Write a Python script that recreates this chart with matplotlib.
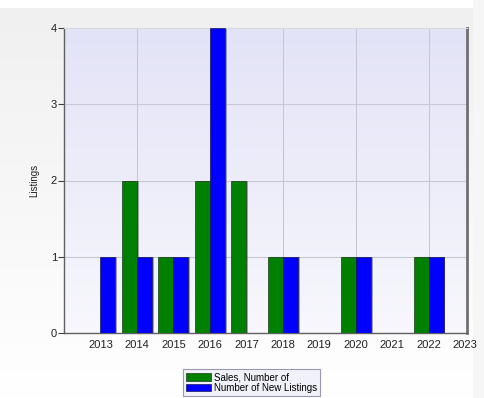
import numpy as np
import matplotlib.pyplot as plt
from matplotlib.patches import Rectangle

years = [2013, 2014, 2015, 2016, 2017, 2018, 2019, 2020, 2021, 2022]
sales = [0, 2, 1, 2, 2, 1, 0, 1, 0, 1]
new_listings = [1, 1, 1, 4, 0, 1, 0, 1, 0, 1]
tick_years = list(range(2013, 2024))

plt.rcParams['font.family'] = ['Liberation Sans', 'DejaVu Sans']

fig = plt.figure(figsize=(4.85, 3.98), dpi=100)

# light grey panel fading to white behind everything
bg = fig.add_axes([0, 0, 1, 1], zorder=-10)
grad = np.linspace(0.94, 1.0, 256).reshape(-1, 1)
bg.imshow(np.dstack([grad, grad, grad]), aspect='auto', extent=[0, 1, 0, 1],
          origin='upper')
bg.add_patch(Rectangle((0, 1 - 8 / 398), 1, 8 / 398, color='white', lw=0))
bg.add_patch(Rectangle((473 / 485, 0), 1, 1, color='#f6f6f6', lw=0))
bg.set_xlim(0, 1)
bg.set_ylim(0, 1)
bg.axis('off')

ax = fig.add_axes([64 / 485, 1 - 333 / 398, 403 / 485, 305 / 398])
ax.set_xlim(2012.0, 2023.05)
ax.set_ylim(0, 4)

# lavender gradient inside the plot area
top = np.array([0.89, 0.89, 0.97])
bottom = np.array([0.97, 0.97, 0.99])
t = np.linspace(0, 1, 256).reshape(-1, 1, 1)
ax.imshow(top * (1 - t) + bottom * t, aspect='auto',
          extent=[2012.0, 2023.05, 0, 4], origin='upper', zorder=0)

for x in [2014, 2016, 2018, 2020, 2022]:
    ax.axvline(x, color='#c8c8d4', lw=0.8, zorder=1)
for y in [1, 2, 3]:
    ax.axhline(y, color='#c8c8d4', lw=0.8, zorder=1)

w = 0.41
xs = np.array(years)
# drop shadows
ax.bar(xs - w / 2 + 0.05, sales, width=w, color='#505050', alpha=0.5,
       zorder=2, linewidth=0)
ax.bar(xs + w / 2 + 0.05, new_listings, width=w, color='#505050', alpha=0.5,
       zorder=2, linewidth=0)
ax.bar(xs - w / 2, sales, width=w, color='#008000', edgecolor='#1a3a1a',
       linewidth=0.5, zorder=3, label='Sales, Number of')
ax.bar(xs + w / 2, new_listings, width=w, color='#0000ff', edgecolor='#1a1a50',
       linewidth=0.5, zorder=3, label='Number of New Listings')

ax.set_xticks(tick_years)
ax.set_xticklabels([str(y) for y in tick_years], fontsize=8, color='#202020')
ax.set_yticks([0, 1, 2, 3, 4])
ax.set_yticklabels(['0', '1', '2', '3', '4'], fontsize=8, color='#202020')
ax.tick_params(axis='x', length=0, pad=5)
ax.tick_params(axis='y', length=4, width=0.8, color='#404040', pad=1)
ax.set_ylabel('Listings', fontsize=7, labelpad=8, color='#202020')

for side in ['left', 'bottom']:
    ax.spines[side].set_color('#606060')
    ax.spines[side].set_linewidth(1.0)
ax.spines['right'].set_color('#707070')
ax.spines['right'].set_linewidth(2.0)
ax.spines['top'].set_color('#d8d8e4')
ax.spines['top'].set_linewidth(0.8)

leg = fig.legend(loc='upper left', bbox_to_anchor=(183 / 485, 1 - 369 / 398),
                 fontsize=7, frameon=True, fancybox=False, handlelength=2.5,
                 handleheight=0.8, handletextpad=0.3, borderpad=0.35,
                 labelspacing=0.05, borderaxespad=0)
leg.get_frame().set_facecolor('#eeeef8')
leg.get_frame().set_edgecolor('#8080a0')
leg.get_frame().set_linewidth(0.8)

fig.savefig('out.png', dpi=100)
